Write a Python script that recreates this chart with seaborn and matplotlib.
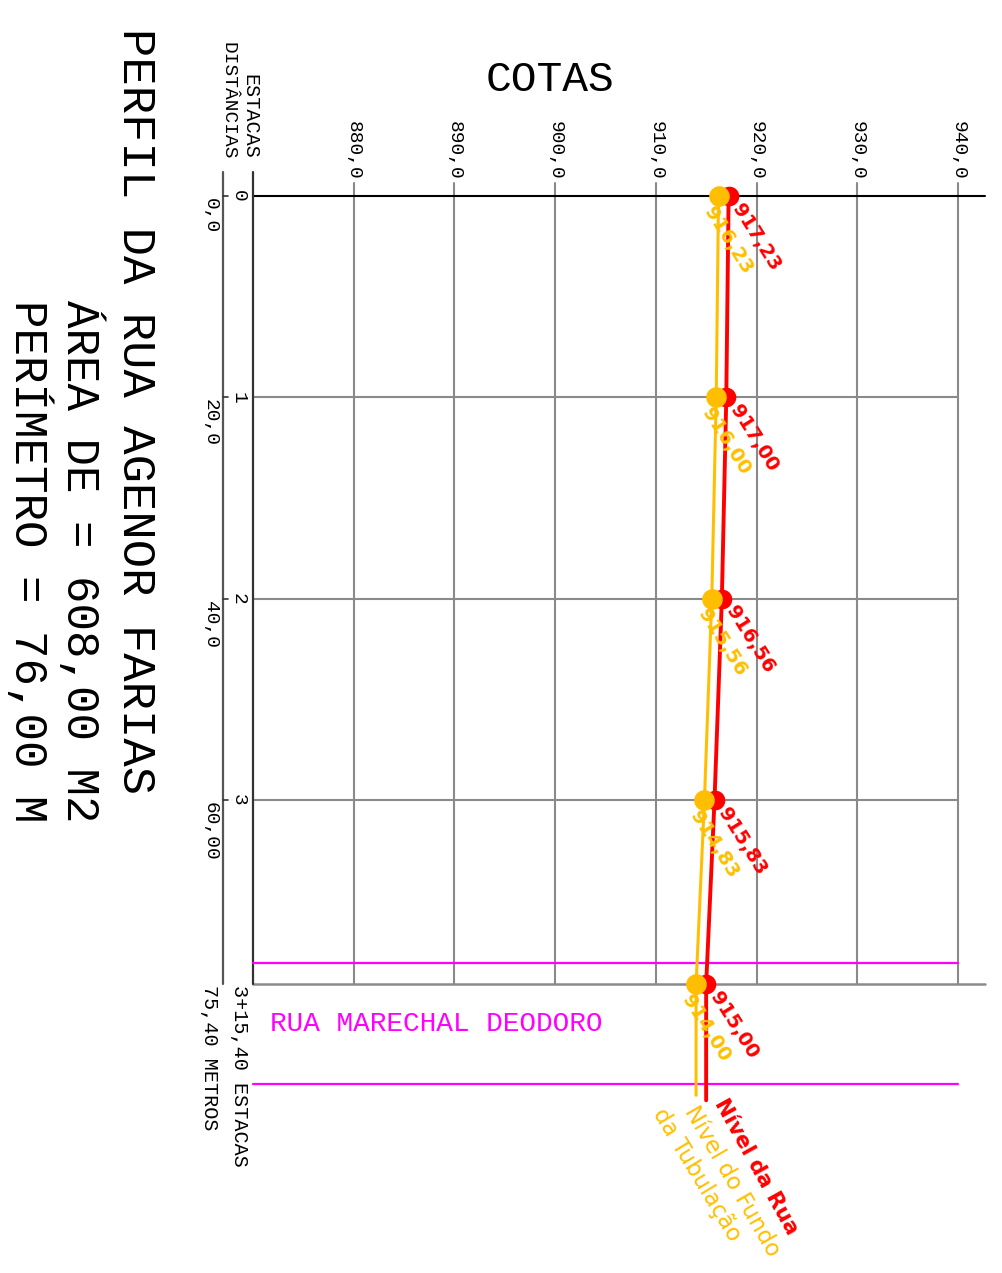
import numpy as np
import pandas as pd
import matplotlib.pyplot as plt
import seaborn as sns

# Dados do perfil
cota_base = 870
cotas_eixo = [880, 890, 900, 910, 920, 930, 940]
estacas = ['0', '1', '2', '3']
distancias_txt = ['0,0', '20,0', '40,0', '60,00']
posicoes = [0, 20, 40, 60, 78.3]          # posicao das estacas no desenho (m)
cota_rua = [917.23, 917.00, 916.56, 915.83, 915.00]
cota_tubo = [916.23, 916.00, 915.56, 914.83, 914.00]
fim_rua = 89.8
fim_tubo = 89.3
limites_marechal = [76.2, 88.2]

VERMELHO = '#ff0000'
AMARELO = '#ffbf00'
MAGENTA = '#ff00ff'
CINZA = '#8a8a8a'
CAD = ['Liberation Mono', 'DejaVu Sans Mono']

sns.set_theme(style='white')
plt.rcParams['font.family'] = ['DejaVu Sans']
plt.rcParams['text.color'] = 'black'

# escala do desenho: pixels por metro
ESC = 10.07
W, H = 1002, 1273

def px_x(p):
    return cota_base + (p - 253) / ESC

def px_y(p):
    return (p - 196) / ESC

fig = plt.figure(figsize=(W / 100, H / 100), dpi=100)
ax = fig.add_axes([0, 0, 1, 1])
ax.set_xlim(px_x(0), px_x(W))
ax.set_ylim(px_y(H), px_y(0))
ax.axis('off')

topo = px_y(183)
ultima = posicoes[-1]
direita = px_x(985)

#_______________________________________________________________________________________________________________
# grade
for c in cotas_eixo:
    ax.plot([c, c], [topo, ultima], color=CINZA, lw=1.5, zorder=1)
    ax.text(c, px_y(180), f'{c:.1f}'.replace('.', ','), rotation=-90, rotation_mode='anchor',
            ha='right', va='center', fontsize=14, family=CAD)
for p in posicoes[1:-1]:
    ax.plot([cota_base, cotas_eixo[-1]], [p, p], color=CINZA, lw=1.5, zorder=1)
ax.plot([cota_base, direita], [ultima, ultima], color=CINZA, lw=1.8, zorder=1)
ax.plot([cota_base, direita], [0, 0], color='black', lw=1.5, zorder=1)

# linhas das estacas / distancias
x_dist = px_x(223)
ax.plot([cota_base, cota_base], [px_y(172), ultima], color='#333333', lw=1.6, zorder=1)
ax.plot([x_dist, x_dist], [px_y(172), ultima], color='#555555', lw=1.6, zorder=1)
for p in posicoes[:-1]:
    ax.plot([x_dist, x_dist + 0.5], [p, p], color='#333333', lw=1.2)

for p, est, dist in zip(posicoes, estacas, distancias_txt):
    ax.text(px_x(238), p, est, rotation=-90, rotation_mode='anchor', ha='center', va='center',
            fontsize=14, family=CAD)
    ax.text(px_x(210), p + 0.2, dist, rotation=-90, rotation_mode='anchor', ha='left', va='center',
            fontsize=14, family=CAD)

ax.text(px_x(250), px_y(159), 'ESTACAS', rotation=-90, rotation_mode='anchor', ha='right',
        va='center', fontsize=14.5, family=CAD)
ax.text(px_x(228), px_y(159), 'DISTÂNCIAS', rotation=-90, rotation_mode='anchor', ha='right',
        va='center', fontsize=14, family=CAD)
ax.text(px_x(240), ultima + 0.1, '3+15,40 ESTACAS', rotation=-90, rotation_mode='anchor',
        ha='left', va='center', fontsize=14.5, family=CAD)
ax.text(px_x(210), ultima + 0.1, '75,40 METROS', rotation=-90, rotation_mode='anchor',
        ha='left', va='center', fontsize=14.5, family=CAD)

# rua transversal
for p in limites_marechal:
    ax.plot([cota_base, cotas_eixo[-1]], [p, p], color=MAGENTA, lw=1.6, zorder=1)
ax.text(px_x(270), np.mean(limites_marechal), 'RUA MARECHAL DEODORO', ha='left', va='center',
        fontsize=20, family=CAD, color=MAGENTA)

#_______________________________________________________________________________________________________________
# perfis
df_rua = pd.DataFrame({'cota': cota_rua + [cota_rua[-1]], 'pos': posicoes + [fim_rua]})
df_tubo = pd.DataFrame({'cota': cota_tubo + [cota_tubo[-1]], 'pos': posicoes + [fim_tubo]})
sns.lineplot(data=df_tubo, x='cota', y='pos', sort=False, estimator=None, color=AMARELO, lw=2.2,
             ax=ax, zorder=3)
sns.lineplot(data=df_rua, x='cota', y='pos', sort=False, estimator=None, color=VERMELHO, lw=2.8,
             ax=ax, zorder=3)
sns.scatterplot(x=cota_rua, y=posicoes, color=VERMELHO, s=200, linewidth=0, ax=ax, zorder=4)
sns.scatterplot(x=cota_tubo, y=posicoes, color=AMARELO, s=220, linewidth=0, ax=ax, zorder=5)

for c, p in zip(cota_rua, posicoes):
    ax.annotate(f'{c:.2f}'.replace('.', ','), (c, p), xytext=(8 * 0.72, -9 * 0.72),
                textcoords='offset points', rotation=-58, rotation_mode='anchor', ha='left',
                va='center', fontsize=14, fontweight='bold', color=VERMELHO, zorder=6)
for c, p in zip(cota_tubo, posicoes):
    ax.annotate(f'{c:.2f}'.replace('.', ','), (c, p), xytext=(-10 * 0.72, -12 * 0.72),
                textcoords='offset points', rotation=-58, rotation_mode='anchor', ha='left',
                va='center', fontsize=14, fontweight='bold', color=AMARELO, zorder=6)

# legendas das linhas
ax.text(px_x(719), px_y(1100), 'Nível da Rua', rotation=-61, rotation_mode='anchor', ha='left',
        va='center', fontsize=15.5, fontweight='bold', color=VERMELHO)
ax.text(px_x(690), px_y(1108), 'Nível do Fundo', rotation=-60, rotation_mode='anchor', ha='left',
        va='center', fontsize=16.5, color=AMARELO)
ax.text(px_x(658), px_y(1110), 'da Tubulação', rotation=-59, rotation_mode='anchor', ha='left',
        va='center', fontsize=16.5, color=AMARELO)

#_______________________________________________________________________________________________________________
# titulos
ax.text(px_x(550), px_y(80), 'COTAS', ha='center', va='center', fontsize=31, family=CAD)
ax.text(px_x(135), px_y(28), 'PERFIL DA RUA AGENOR FARIAS', rotation=-90, rotation_mode='anchor',
        ha='left', va='center', fontsize=34, family=CAD)
ax.text(px_x(80), px_y(300), 'ÁREA DE = 608,00 M2', rotation=-90, rotation_mode='anchor',
        ha='left', va='center', fontsize=33, family=CAD)
ax.text(px_x(28), px_y(300), 'PERÍMETRO = 76,00 M', rotation=-90, rotation_mode='anchor',
        ha='left', va='center', fontsize=33, family=CAD)

fig.savefig('out.png', dpi=100)
